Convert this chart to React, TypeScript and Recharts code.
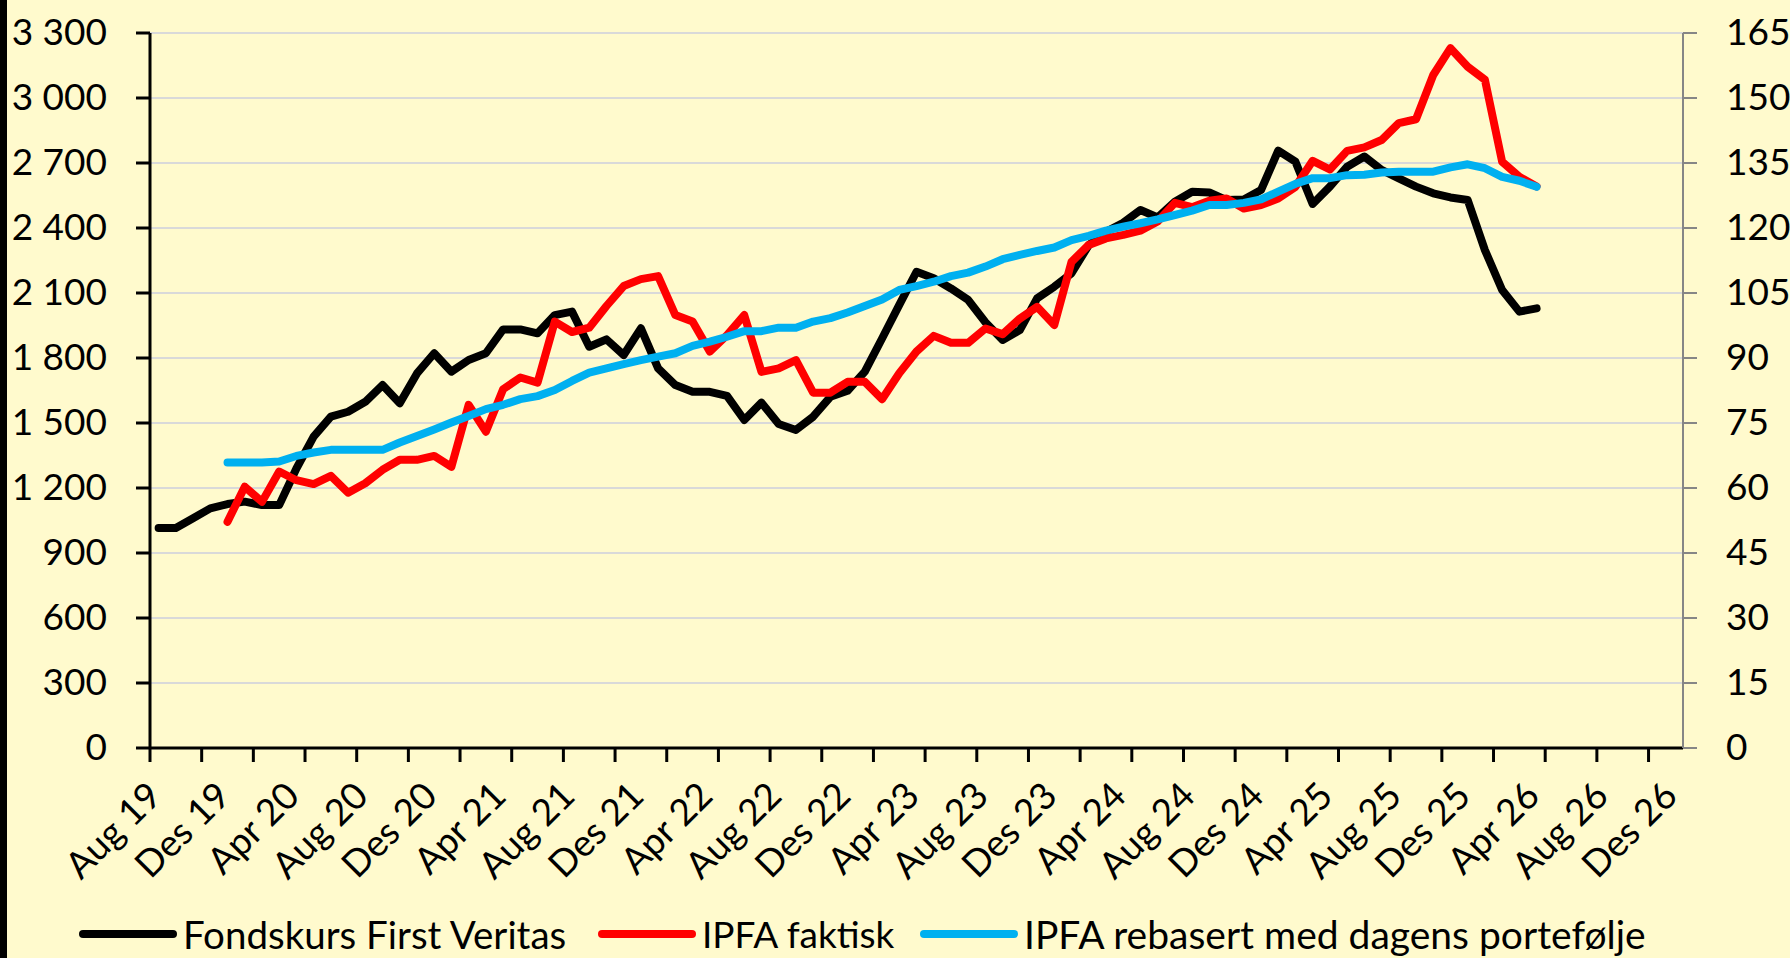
import React from 'react';
import { LineChart, Line, XAxis, YAxis, CartesianGrid } from 'recharts';

// month index 0 = Aug 19, one point per month
const tickLabels = [
  'Aug 19', 'Des 19', 'Apr 20', 'Aug 20', 'Des 20', 'Apr 21', 'Aug 21', 'Des 21',
  'Apr 22', 'Aug 22', 'Des 22', 'Apr 23', 'Aug 23', 'Des 23', 'Apr 24', 'Aug 24',
  'Des 24', 'Apr 25', 'Aug 25', 'Des 25', 'Apr 26', 'Aug 26', 'Des 26',
];

const leftTicks = [0, 300, 600, 900, 1200, 1500, 1800, 2100, 2400, 2700, 3000, 3300];
const rightTicks = [0, 15, 30, 45, 60, 75, 90, 105, 120, 135, 150, 165];

// Fondskurs First Veritas, Aug 19 -> Apr 26 (left axis)
const fondskurs = [
  1015, 1015, 1060, 1106, 1126, 1137, 1121, 1121, 1290, 1437,
  1529, 1552, 1598, 1675, 1591, 1729, 1822, 1737, 1791, 1822,
  1932, 1932, 1914, 1998, 2014, 1852, 1886, 1814, 1937, 1752,
  1675, 1644, 1644, 1625, 1514, 1594, 1495, 1468, 1529, 1621,
  1649, 1737, 1890, 2045, 2198, 2168, 2121, 2068, 1965, 1883,
  1929, 2075, 2129, 2191, 2321, 2383, 2424, 2483, 2449, 2521,
  2567, 2564, 2529, 2532, 2575, 2757, 2706, 2511, 2591, 2683,
  2730, 2668, 2629, 2591, 2560, 2541, 2529, 2298, 2114, 2014,
  2029,
];

// IPFA series start Des 19 (right axis)
const ipfaStart = 4;

const ipfaFaktisk = [
  52.2, 60.3, 56.8, 63.8, 61.8, 60.9, 62.8, 58.9, 61.1, 64.2,
  66.5, 66.5, 67.4, 64.9, 79.2, 73.0, 82.8, 85.5, 84.3, 98.4,
  96.0, 97.0, 102.0, 106.6, 108.2, 108.9, 99.9, 98.4, 91.5, 95.3,
  99.9, 86.8, 87.6, 89.5, 82.0, 82.0, 84.5, 84.5, 80.5, 86.5,
  91.5, 95.1, 93.5, 93.5, 96.8, 95.5, 99.1, 101.8, 97.6, 112.2,
  116.1, 117.6, 118.4, 119.4, 121.5, 125.8, 124.8, 126.3, 126.8, 124.5,
  125.3, 126.8, 129.5, 135.5, 133.5, 137.8, 138.6, 140.3, 144.2, 145.1,
  155.3, 161.5, 157.2, 154.2, 135.3, 131.8, 129.6,
];

const ipfaRebasert = [
  65.9, 65.9, 65.9, 66.1, 67.4, 68.2, 68.8, 68.8, 68.8, 68.8,
  70.5, 72.0, 73.5, 75.1, 76.6, 78.2, 79.2, 80.5, 81.2, 82.6,
  84.7, 86.6, 87.6, 88.6, 89.5, 90.3, 91.1, 92.8, 93.8, 94.9,
  96.2, 96.2, 97.0, 97.0, 98.4, 99.2, 100.5, 102.0, 103.5, 105.7,
  106.6, 107.6, 108.9, 109.7, 111.1, 112.8, 113.8, 114.7, 115.5, 117.2,
  118.2, 119.4, 120.3, 121.1, 122.0, 123.0, 124.0, 125.3, 125.3, 125.8,
  126.6, 128.4, 130.2, 131.5, 131.5, 132.2, 132.3, 132.8, 133.0, 133.0,
  133.0, 134.0, 134.7, 133.8, 131.8, 130.9, 129.5,
];

const data = fondskurs.map((v, i) => ({
  m: i,
  fondskurs: v,
  faktisk: i >= ipfaStart ? ipfaFaktisk[i - ipfaStart] : null,
  rebasert: i >= ipfaStart ? ipfaRebasert[i - ipfaStart] : null,
}));

// labels every 4 months, tick marks every 3 months between categories
const labelTicks = tickLabels.map((_, k) => k * 4);
const markTicks = Array.from({ length: 30 }, (_, k) => -0.5 + k * 3);
const xTicks = [...labelTicks, ...markTicks].sort((a, b) => a - b);

const FONT = 'Lato, "Open Sans", sans-serif';
const FS = 37;

const fmtThousands = (v: number) =>
  v >= 1000 ? `${Math.floor(v / 1000)} ${String(v % 1000).padStart(3, '0')}` : String(v);

const MonthTick = ({ x, y, payload }: any) => {
  const v = payload.value;
  if (Number.isInteger(v)) {
    const ax = x + 5;
    const ay = y + 50;
    return (
      <text
        x={ax}
        y={ay}
        transform={`rotate(-45 ${ax} ${ay})`}
        textAnchor="end"
        fontSize={FS}
        fontFamily={FONT}
        fill="#000"
      >
        {tickLabels[v / 4]}
      </text>
    );
  }
  return <line x1={x} x2={x} y1={y} y2={y + 14} stroke="#000" strokeWidth={3} />;
};

const legendItems = [
  { name: 'Fondskurs First Veritas', color: '#000000', left: 79, size: 38.5 },
  { name: 'IPFA faktisk', color: '#FF0000', left: 598, size: 37 },
  { name: 'IPFA rebasert med dagens portefølje', color: '#00B0F0', left: 920, size: 39 },
];

export default function App() {
  return (
    <div
      style={{
        position: 'absolute',
        left: 0,
        top: 0,
        width: 1790,
        height: 958,
        background: '#FFFACD',
        overflow: 'hidden',
        fontFamily: FONT,
      }}
    >
      <div style={{ position: 'absolute', left: 0, top: 0, width: 7, height: 958, background: '#000' }} />
      <LineChart
        width={1790}
        height={958}
        data={data}
        margin={{ top: 33, right: 0, bottom: 0, left: 0 }}
        style={{ position: 'absolute', left: 0, top: 0 }}
      >
        <CartesianGrid yAxisId="left" vertical={false} stroke="#D9D9D9" strokeWidth={2} />
        <XAxis
          dataKey="m"
          type="number"
          domain={[-0.5, 88.5]}
          ticks={xTicks}
          interval={0}
          height={210}
          tickSize={0}
          tickMargin={0}
          tickLine={false}
          axisLine={{ stroke: '#000', strokeWidth: 3 }}
          tick={<MonthTick />}
        />
        <YAxis
          yAxisId="left"
          domain={[0, 3300]}
          ticks={leftTicks}
          width={150}
          tickSize={14}
          tickMargin={29}
          axisLine={{ stroke: '#000', strokeWidth: 3 }}
          tickLine={{ stroke: '#000', strokeWidth: 3 }}
          tick={{ fill: '#000', fontSize: FS, fontFamily: FONT, dy: -1.5 }}
          tickFormatter={fmtThousands}
          interval={0}
        />
        <YAxis
          yAxisId="right"
          orientation="right"
          domain={[0, 165]}
          ticks={rightTicks}
          width={107}
          tickSize={14}
          tickMargin={29}
          axisLine={{ stroke: '#868686', strokeWidth: 2 }}
          tickLine={{ stroke: '#868686', strokeWidth: 2 }}
          tick={{ fill: '#000', fontSize: FS, fontFamily: FONT, dy: -1.5 }}
          interval={0}
        />
        <Line
          yAxisId="left"
          type="linear"
          dataKey="fondskurs"
          stroke="#000000"
          strokeWidth={8}
          strokeLinejoin="round"
          strokeLinecap="round"
          dot={false}
          isAnimationActive={false}
        />
        <Line
          yAxisId="right"
          type="linear"
          dataKey="faktisk"
          stroke="#FF0000"
          strokeWidth={8}
          strokeLinejoin="round"
          strokeLinecap="round"
          dot={false}
          isAnimationActive={false}
        />
        <Line
          yAxisId="right"
          type="linear"
          dataKey="rebasert"
          stroke="#00B0F0"
          strokeWidth={8}
          strokeLinejoin="round"
          strokeLinecap="round"
          dot={false}
          isAnimationActive={false}
        />
      </LineChart>
      {legendItems.map((item) => (
        <div
          key={item.name}
          style={{
            position: 'absolute',
            left: item.left,
            top: 916,
            height: 36,
            display: 'flex',
            alignItems: 'center',
            whiteSpace: 'nowrap',
          }}
        >
          <svg width={98} height={12} style={{ display: 'block' }}>
            <line x1={4} x2={94} y1={6} y2={6} stroke={item.color} strokeWidth={8} strokeLinecap="round" />
          </svg>
          <span style={{ fontSize: item.size, color: '#000', marginLeft: 6, lineHeight: '36px' }}>{item.name}</span>
        </div>
      ))}
    </div>
  );
}
